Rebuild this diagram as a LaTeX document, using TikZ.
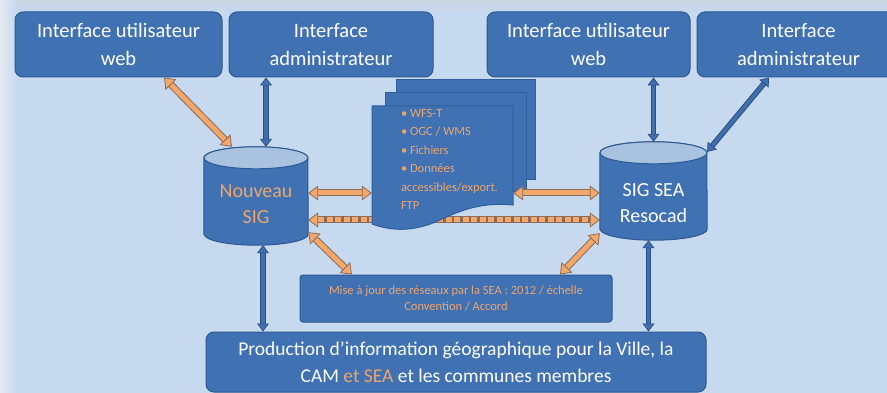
\documentclass[tikz,border=0pt]{standalone}
\usepackage{fontspec}
\setmainfont{Carlito}
\usetikzlibrary{arrows.meta,calc}
\pgfdeclarelayer{background}
\pgfsetlayers{background,main}

\definecolor{bgblue}{HTML}{C7D9EF}
\definecolor{bgleft}{HTML}{E4EAF1}
\definecolor{bgtop}{HTML}{C9D6E2}
\definecolor{boxfill}{HTML}{3F71B3}
\definecolor{boxline}{HTML}{2C5993}
\definecolor{pageline}{HTML}{2E609E}
\definecolor{cyltopfill}{HTML}{A9C2DF}
\definecolor{ofill}{HTML}{F2A86B}
\definecolor{oline}{HTML}{8C6B58}
\definecolor{otext}{HTML}{EDA56C}
\definecolor{bfill}{HTML}{416FAE}
\definecolor{bline}{HTML}{2A4F82}

% cylinder body and lid drawn behind a named node
\newcommand\cylbody[2]{%
  \begin{pgfonlayer}{background}
    \path[fill=boxfill, draw=boxline, line width=1pt]
      ([yshift=11pt]#1.south west) -- ([yshift=-11pt]#1.north west)
      arc[start angle=180, end angle=0, x radius=#2, y radius=11pt]
      -- ([yshift=11pt]#1.south east)
      arc[start angle=0, end angle=-180, x radius=#2, y radius=11pt] -- cycle;
    \path[fill=cyltopfill, draw=boxline, line width=1pt]
      ([yshift=-11pt]#1.north) ellipse[x radius=#2, y radius=11pt];
  \end{pgfonlayer}}

\begin{document}
\begin{tikzpicture}[x=1pt, y=1pt,
  ibox/.style={draw=boxline, line width=1pt, fill=boxfill, rounded corners=8pt,
    text=white, align=center, inner sep=0pt,
    font=\fontsize{20.5}{28}\selectfont},
  cylnode/.style={inner sep=0pt},
  cyltext/.style={inner sep=0pt, align=center, font=\fontsize{20}{26}\selectfont},
  oarrow/.style={draw=ofill, line width=5pt,
    {Triangle[length=10pt, width=15pt, color=oline, fill=ofill, line width=0.8pt]}-{Triangle[length=10pt, width=15pt, color=oline, fill=ofill, line width=0.8pt]},
    preaction={draw=oline, solid, line width=7pt, arrows=-, shorten <=8pt, shorten >=8pt}},
  odash/.style={oarrow, dash pattern=on 6pt off 2.5pt},
  barrow/.style={draw=bfill, line width=3.5pt,
    {Triangle[length=8pt, width=12pt, color=bline, fill=bfill, line width=0.7pt]}-{Triangle[length=8pt, width=12pt, color=bline, fill=bfill, line width=0.7pt]},
    preaction={draw=bline, line width=5.5pt, arrows=-, shorten <=6pt, shorten >=6pt}},
  pagestyle/.style={fill=boxfill, draw=pageline, line width=1pt}
]
\clip (0,0) rectangle (887,-393);

% backdrop
\begin{pgfonlayer}{background}
  \fill[bgblue] (0,0) rectangle (887,-393);
  \shade[left color=bgleft, right color=bgblue] (0,0) rectangle (16,-393);
  \shade[top color=bgtop, bottom color=bgblue] (16,0) rectangle (887,-12);
\end{pgfonlayer}

% interface boxes
\node[ibox, minimum width=207pt, minimum height=65pt] (b1) at (118.5,-44.5)
  {Interface utilisateur\\web};
\node[ibox, minimum width=204pt, minimum height=65pt] (b2) at (331,-44.5)
  {Interface\\administrateur};
\node[ibox, minimum width=203pt, minimum height=65pt] (b3) at (588.5,-44.5)
  {Interface utilisateur\\web};
\node[ibox, minimum width=203pt, minimum height=65pt] (b4) at (798.5,-44.5)
  {Interface\\administrateur};

% databases
\node[cylnode, minimum width=104pt, minimum height=98pt] (nsig) at (256,-196) {};
\cylbody{nsig}{52pt}
\node[cyltext, text=otext] (nsigtxt) at ([yshift=-8pt]nsig.center) {Nouveau\\SIG};
\node[cylnode, minimum width=107pt, minimum height=98pt] (sea) at (653.5,-191) {};
\cylbody{sea}{53.5pt}
\node[cyltext, text=white] (seatxt) at ([yshift=-12pt]sea.center) {SIG SEA\\Resocad};

% exchange running behind the documents
\draw[odash] ([yshift=-24pt]nsig.east) -- ([yshift=-24pt]nsig.east -| sea.west);

% stack of documents
\path[pagestyle] (396,-80) rectangle (535,-180);
\path[pagestyle] (385,-93) rectangle (526,-192);
\path[pagestyle] (372,-106) -- (513,-106) -- (513,-205)
  .. controls (482,-202) and (462,-210) .. (442,-219)
  .. controls (420,-230) and (396,-233) .. (372,-224) -- cycle;
\node[minimum width=141pt, minimum height=122pt, inner sep=0pt] (doc) at (442.5,-167) {};
\node[anchor=north west, inner sep=0pt, align=left, text=otext,
  font=\fontsize{12.5}{18.5}\selectfont] (doctxt) at ([xshift=29pt, yshift=-3pt]doc.north west)
  {• WFS-T\\• OGC / WMS\\• Fichiers\\• Données\\accessibles/export.\\FTP};

% update box and production box
\node[draw=boxline, line width=1pt, fill=boxfill, rounded corners=3pt,
  minimum width=312pt, minimum height=47pt, align=center, text=otext,
  font=\fontsize{12.5}{16}\selectfont] (mid) at (456,-298.5)
  {Mise à jour des réseaux par la SEA : 2012 / échelle\\Convention / Accord};
\node[ibox, minimum width=500pt, minimum height=60pt,
  font=\fontsize{19.5}{27}\selectfont] (bot) at (456,-362)
  {Production d’information géographique pour la Ville, la\\
   CAM \textcolor{otext}{et SEA} et les communes membres};

% connectors
\draw[oarrow] ([xshift=45.5pt]b1.south) -- ([xshift=-24pt]nsig.north);
\draw[barrow] ([xshift=10pt]nsig.north) -- ([xshift=10pt]nsig.north |- b2.south);
\draw[barrow] (sea.north) -- (sea.north |- b3.south);
\draw[barrow] ([xshift=-29.5pt]b4.south) -- ([yshift=-10pt]sea.north east);
\draw[oarrow] ([yshift=3pt]nsig.east) -- ([yshift=3pt]nsig.east -| doc.west);
\draw[oarrow] ([yshift=-2pt]sea.west -| doc.east) -- ([yshift=-2pt]sea.west);
\draw[oarrow] ([yshift=13pt]nsig.south east) -- ([xshift=-104pt]mid.north);
\draw[oarrow] ([yshift=7pt]sea.south west) -- ([xshift=104pt]mid.north);
\draw[barrow] ([xshift=7pt]nsig.south) -- ([xshift=7pt]nsig.south |- bot.north);
\draw[barrow] ([xshift=-5pt]sea.south) -- ([xshift=-5pt]sea.south |- bot.north);
\end{tikzpicture}
\end{document}
